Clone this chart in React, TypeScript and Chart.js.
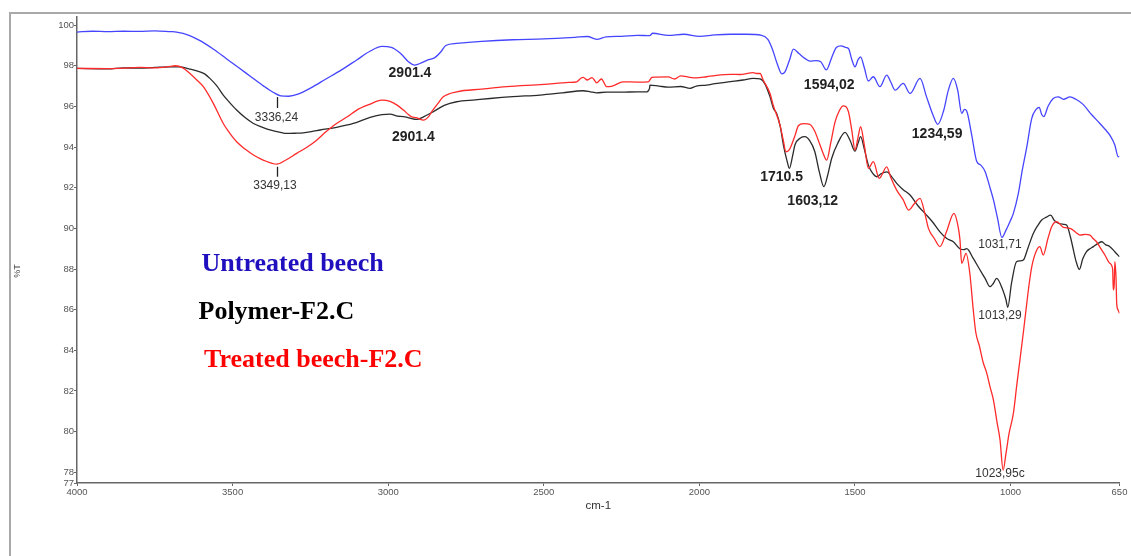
import React, { useEffect, useRef } from 'react';
import { Chart, registerables } from 'chart.js';

Chart.register(...registerables);

// ---- DATA (wavenumber cm-1, %T) ----
const untreatedBeech: [number, number][] = [
  [4000, 99.66], [3950, 99.7], [3900, 99.68], [3850, 99.7], [3800, 99.69], [3750, 99.72], [3700, 99.68], [3680, 99.66],
  [3640, 99.5], [3600, 99.2], [3560, 98.8], [3520, 98.35], [3480, 97.9], [3440, 97.45], [3400, 97.0], [3370, 96.7],
  [3345, 96.52], [3320, 96.5], [3290, 96.6], [3250, 96.9], [3200, 97.35], [3150, 97.8], [3100, 98.3], [3060, 98.7],
  [3020, 98.95], [2990, 98.9], [2960, 98.6], [2935, 98.2], [2915, 98.03], [2900, 98.1], [2870, 98.3], [2850, 98.4],
  [2830, 98.7], [2815, 99.0], [2780, 99.1], [2700, 99.2], [2600, 99.28], [2500, 99.32], [2400, 99.4], [2360, 99.44],
  [2330, 99.3], [2300, 99.42], [2250, 99.45], [2200, 99.5], [2160, 99.48], [2150, 99.6], [2100, 99.5], [2050, 99.55],
  [2000, 99.45], [1950, 99.52], [1900, 99.55], [1850, 99.55], [1800, 99.5], [1780, 99.3], [1765, 98.8], [1750, 98.1],
  [1735, 97.6], [1725, 97.7], [1710, 98.3], [1698, 98.82], [1680, 98.6], [1660, 98.35], [1645, 98.23], [1625, 98.25],
  [1610, 98.2], [1592, 97.8], [1575, 98.4], [1560, 98.9], [1545, 98.98], [1530, 98.9], [1521, 98.85], [1510, 98.3],
  [1500, 97.95], [1490, 98.3], [1482, 98.44], [1470, 97.9], [1457, 97.25], [1441, 97.46], [1420, 96.97], [1398, 97.54],
  [1385, 97.2], [1371, 96.8], [1345, 97.13], [1323, 96.64], [1291, 97.38], [1270, 96.47], [1250, 95.6], [1234, 95.12],
  [1215, 95.8], [1200, 96.8], [1184, 97.38], [1170, 96.8], [1157, 95.66], [1148, 95.85], [1141, 95.77], [1125, 94.6],
  [1109, 93.3], [1095, 93.1], [1082, 92.8], [1068, 92.1], [1055, 91.4], [1042, 90.5], [1028, 89.55], [1015, 89.9],
  [1000, 90.4], [991, 90.74], [975, 91.72], [962, 92.9], [948, 94.0], [932, 95.41], [918, 95.85], [908, 95.95],
  [900, 95.6], [893, 95.5], [880, 96.0], [863, 96.39], [847, 96.47], [830, 96.35], [809, 96.47], [790, 96.35],
  [767, 96.1], [740, 95.6], [713, 95.16], [695, 94.85], [681, 94.59], [665, 94.1], [654, 93.52], [650, 93.55],
];

const polymerF2C: [number, number][] = [
  [4000, 97.87], [3900, 97.85], [3850, 97.9], [3800, 97.88], [3750, 97.92], [3700, 97.95], [3670, 97.95], [3640, 97.85],
  [3615, 97.75], [3590, 97.6], [3573, 97.38], [3550, 97.0], [3530, 96.56], [3510, 96.2], [3487, 95.82], [3460, 95.45],
  [3433, 95.16], [3405, 94.98], [3380, 94.84], [3350, 94.74], [3326, 94.67], [3300, 94.68], [3273, 94.7], [3240, 94.78],
  [3219, 94.84], [3166, 94.97], [3112, 95.16], [3058, 95.46], [3020, 95.6], [2994, 95.62], [2970, 95.52], [2951, 95.5],
  [2930, 95.42], [2908, 95.36], [2885, 95.5], [2855, 95.74], [2820, 96.05], [2780, 96.23], [2720, 96.32], [2673, 96.39],
  [2600, 96.48], [2512, 96.56], [2440, 96.67], [2373, 96.77], [2350, 96.72], [2330, 96.67], [2300, 96.7], [2250, 96.7],
  [2200, 96.72], [2169, 96.72], [2160, 96.9], [2159, 97.05], [2130, 97.0], [2100, 96.95], [2060, 96.98], [2030, 96.89],
  [2010, 97.0], [1977, 97.05], [1950, 97.12], [1900, 97.22], [1860, 97.3], [1827, 97.38], [1805, 97.35], [1789, 97.1],
  [1773, 96.47], [1762, 95.9], [1752, 95.66], [1740, 95.0], [1730, 94.1], [1718, 93.3], [1711, 92.95], [1700, 93.6],
  [1693, 94.1], [1675, 94.45], [1661, 94.51], [1645, 94.3], [1629, 93.77], [1615, 92.8], [1600, 92.05], [1588, 92.6],
  [1575, 93.44], [1555, 94.2], [1532, 94.72], [1515, 94.3], [1500, 93.8], [1490, 94.2], [1482, 94.51], [1470, 93.9],
  [1457, 93.11], [1443, 92.7], [1430, 92.54], [1415, 92.7], [1398, 92.78], [1380, 92.5], [1366, 92.21], [1345, 91.9],
  [1323, 91.64], [1297, 91.1], [1270, 90.65], [1250, 90.3], [1227, 89.83], [1205, 89.5], [1184, 89.34], [1163, 89.0],
  [1150, 88.95], [1141, 89.0], [1120, 88.52], [1100, 88.0], [1082, 87.54], [1066, 87.13], [1055, 87.3], [1045, 87.54],
  [1025, 86.97], [1015, 86.5], [1009, 86.11], [997, 87.3], [981, 88.36], [970, 88.4], [959, 88.44], [945, 89.0],
  [927, 89.75], [910, 90.2], [900, 90.41], [885, 90.55], [871, 90.65], [860, 90.4], [847, 90.25], [830, 90.2],
  [820, 90.16], [808, 89.6], [798, 88.93], [790, 88.4], [779, 87.98], [768, 88.5], [756, 88.85], [745, 89.0],
  [734, 89.1], [720, 89.25], [707, 89.34], [695, 89.2], [681, 89.1], [665, 88.85], [650, 88.6],
];

const treatedBeechF2C: [number, number][] = [
  [4000, 97.87], [3900, 97.86], [3850, 97.88], [3800, 97.92], [3750, 97.9], [3700, 97.97], [3685, 98.0], [3660, 97.9],
  [3637, 97.62], [3615, 97.3], [3594, 96.97], [3562, 96.15], [3530, 95.16], [3510, 94.7], [3487, 94.26], [3460, 93.9],
  [3433, 93.61], [3400, 93.35], [3358, 93.16], [3330, 93.35], [3294, 93.69], [3260, 94.0], [3230, 94.34], [3200, 94.75],
  [3166, 95.16], [3130, 95.5], [3101, 95.82], [3060, 96.1], [3021, 96.31], [2994, 96.25], [2970, 96.05], [2951, 95.82],
  [2935, 95.6], [2925, 95.49], [2910, 95.45], [2903, 95.41], [2887, 95.33], [2870, 95.5], [2860, 95.74], [2840, 96.15],
  [2823, 96.47], [2780, 96.72], [2700, 96.85], [2619, 96.97], [2500, 97.08], [2420, 97.18], [2394, 97.21], [2380, 97.4],
  [2373, 97.43], [2360, 97.3], [2345, 97.42], [2330, 97.16], [2315, 97.35], [2298, 96.97], [2280, 97.0], [2245, 97.21],
  [2200, 97.2], [2164, 97.21], [2155, 97.4], [2153, 97.43], [2100, 97.45], [2080, 97.35], [2060, 97.5], [2030, 97.43],
  [2010, 97.4], [1977, 97.46], [1950, 97.52], [1900, 97.58], [1870, 97.57], [1827, 97.66], [1816, 97.62], [1805, 97.62],
  [1795, 97.3], [1773, 96.64], [1763, 96.07], [1741, 95.08], [1730, 94.3], [1722, 93.77], [1712, 93.85], [1704, 94.1],
  [1692, 94.6], [1682, 95.05], [1665, 95.15], [1645, 95.12], [1630, 94.8], [1618, 94.34], [1605, 93.8], [1591, 93.36],
  [1578, 94.2], [1564, 95.24], [1550, 95.8], [1538, 96.03], [1521, 95.74], [1510, 94.8], [1500, 93.85], [1490, 94.5],
  [1482, 95.0], [1470, 94.1], [1457, 92.95], [1441, 93.28], [1422, 92.46], [1398, 93.03], [1385, 92.5], [1366, 91.88],
  [1345, 91.4], [1328, 90.9], [1310, 91.2], [1291, 91.48], [1275, 90.7], [1264, 90.0], [1245, 89.5], [1227, 89.1],
  [1206, 89.83], [1182, 90.74], [1170, 90.2], [1163, 89.5], [1157, 88.28], [1143, 88.77], [1131, 87.79], [1120, 86.0],
  [1112, 84.9], [1100, 84.2], [1088, 83.4], [1077, 82.9], [1066, 82.2], [1055, 81.55], [1044, 80.5], [1034, 79.6],
  [1024, 78.1], [1015, 78.9], [1005, 79.9], [991, 80.9], [980, 82.3], [970, 83.52], [958, 85.0], [948, 86.31],
  [940, 87.3], [932, 88.11], [916, 88.93], [906, 89.1], [895, 88.69], [880, 89.5], [868, 90.08], [852, 90.33],
  [830, 90.05], [809, 90.0], [790, 89.8], [777, 89.67], [760, 89.7], [745, 89.67], [735, 89.5], [724, 89.34],
  [710, 89.0], [697, 88.69], [681, 88.28], [672, 88.0], [670, 86.97], [667, 87.2], [665, 88.36], [661, 87.5],
  [659, 86.31], [655, 86.0], [650, 85.82],
];

const xTickValues = [4000, 3500, 3000, 2500, 2000, 1500, 1000, 650];
const yTickValues = [77.47, 78, 80, 82, 84, 86, 88, 90, 92, 94, 96, 98, 100];

const seriesNames = ['Untreated beech', 'Polymer-F2.C', 'Treated beech-F2.C'];

// peak labels: [wavenumber, %T, text, bold]
const peakLabels: [number, number, string, boolean][] = [
  [3359, 95.47, '3336,24', false],
  [3364, 92.1, '3349,13', false],
  [2930, 97.62, '2901.4', true],
  [2919, 94.48, '2901.4', true],
  [1583, 97.05, '1594,02', true],
  [1236, 94.62, '1234,59', true],
  [1736, 92.54, '1710.5', true],
  [1636, 91.36, '1603,12', true],
  [1034, 89.18, '1031,71', false],
  [1034, 85.69, '1013,29', false],
  [1034, 77.91, '1023,95c', false],
];
// small vertical marker lines: [wavenumber, from %T, to %T]
const peakMarkers: [number, number, number][] = [
  [3358, 96.46, 95.92],
  [3358, 93.03, 92.54],
];

const SANS = '"Liberation Sans", Arial, sans-serif';
const SERIF = '"Liberation Serif", "Times New Roman", serif';

const textPlugin = {
  id: 'ftirTexts',
  beforeDraw(chart: any) {
    const ctx = chart.ctx;
    ctx.save();
    ctx.strokeStyle = '#a9a9a9';
    ctx.lineWidth = 2;
    ctx.beginPath();
    ctx.moveTo(10, 560);
    ctx.lineTo(10, 13);
    ctx.lineTo(1135, 13);
    ctx.stroke();
    ctx.restore();
  },
  afterDraw(chart: any) {
    const ctx = chart.ctx;
    const xs = chart.scales.x;
    const ys = chart.scales.y;
    const area = chart.chartArea;
    ctx.save();

    // markers
    ctx.strokeStyle = '#222';
    ctx.lineWidth = 1.3;
    peakMarkers.forEach(([wn, a, b]) => {
      const px = Math.round(xs.getPixelForValue(wn)) + 0.5;
      ctx.beginPath();
      ctx.moveTo(px, ys.getPixelForValue(a));
      ctx.lineTo(px, ys.getPixelForValue(b));
      ctx.stroke();
    });

    // peak labels
    ctx.textAlign = 'center';
    ctx.textBaseline = 'middle';
    peakLabels.forEach(([wn, v, txt, bold]) => {
      ctx.font = bold ? `bold 14px ${SANS}` : `12px ${SANS}`;
      ctx.fillStyle = bold ? '#222' : '#333';
      ctx.fillText(txt, xs.getPixelForValue(wn), ys.getPixelForValue(v));
    });

    // legend texts
    ctx.textAlign = 'left';
    ctx.textBaseline = 'alphabetic';
    ctx.font = `bold 26px ${SERIF}`;
    const legendColors = ['#1f0fbe', '#000000', '#ff0000'];
    const legendX = [area.left + 124.5, area.left + 121.5, area.left + 127];
    const legendY = [area.top + 254, area.top + 301.5, area.top + 350];
    seriesNames.forEach((name, i) => {
      ctx.fillStyle = legendColors[i];
      ctx.fillText(name, legendX[i], legendY[i]);
    });

    // axis titles
    ctx.fillStyle = '#333';
    ctx.textAlign = 'center';
    ctx.textBaseline = 'middle';
    ctx.font = `11.5px ${SANS}`;
    ctx.fillText('cm-1', (area.left + area.right) / 2, area.bottom + 22.7);
    ctx.save();
    ctx.translate(18, area.top + 254);
    ctx.rotate(-Math.PI / 2);
    ctx.font = `9px ${SANS}`;
    ctx.fillStyle = '#444';
    ctx.fillText('%T', 0, 0);
    ctx.restore();

    ctx.restore();
  },
};

export default function App() {
  const canvasRef = useRef<HTMLCanvasElement | null>(null);

  useEffect(() => {
    const canvas = canvasRef.current;
    if (!canvas) return;
    const toXY = (arr: [number, number][]) => arr.map(([x, y]) => ({ x, y }));
    const tickFont = { family: SANS, size: 9.5 };
    const chart = new Chart(canvas, {
      type: 'line',
      data: {
        datasets: [
          {
            label: seriesNames[2],
            data: toXY(treatedBeechF2C),
            borderColor: '#ff2a2a',
            borderWidth: 1.3,
            pointRadius: 0,
            cubicInterpolationMode: 'monotone',
          },
          {
            label: seriesNames[1],
            data: toXY(polymerF2C),
            borderColor: '#2b2b2b',
            borderWidth: 1.3,
            pointRadius: 0,
            cubicInterpolationMode: 'monotone',
          },
          {
            label: seriesNames[0],
            data: toXY(untreatedBeech),
            borderColor: '#4545ff',
            borderWidth: 1.3,
            pointRadius: 0,
            cubicInterpolationMode: 'monotone',
          },
        ],
      },
      options: {
        animation: false,
        responsive: false,
        maintainAspectRatio: false,
        layout: { padding: { left: 0, right: 11.5, top: 17, bottom: 0 } },
        plugins: { legend: { display: false }, tooltip: { enabled: false } },
        scales: {
          x: {
            type: 'linear',
            reverse: true,
            min: 650,
            max: 4000,
            afterBuildTicks: (s: any) => {
              s.ticks = xTickValues.map((v) => ({ value: v }));
            },
            afterFit: (s: any) => {
              s.height = 73;
            },
            ticks: {
              autoSkip: false,
              maxRotation: 0,
              padding: 1,
              color: '#555',
              font: tickFont,
              callback: (v: any) => String(v),
            },
            grid: { display: true, drawOnChartArea: false, drawTicks: true, tickLength: 3, tickColor: '#666' },
            border: { display: true, color: '#666', width: 1.5 },
          },
          y: {
            type: 'linear',
            min: 77.47,
            max: 100.4,
            afterBuildTicks: (s: any) => {
              s.ticks = yTickValues.map((v) => ({ value: v }));
            },
            afterFit: (s: any) => {
              s.width = 77;
            },
            ticks: {
              autoSkip: false,
              padding: 0,
              color: '#555',
              font: tickFont,
              callback: (v: any) => String(Math.round(Number(v))),
            },
            grid: { display: true, drawOnChartArea: false, drawTicks: true, tickLength: 3, tickColor: '#666' },
            border: { display: true, color: '#666', width: 1.5 },
          },
        },
      },
      plugins: [textPlugin],
    } as any);
    return () => chart.destroy();
  }, []);

  return (
    <div
      style={{
        position: 'fixed',
        left: 0,
        top: 0,
        width: 1131,
        height: 556,
        overflow: 'hidden',
        background: '#fff',
      }}
    >
      <canvas ref={canvasRef} width={1131} height={556} style={{ display: 'block' }} />
    </div>
  );
}
